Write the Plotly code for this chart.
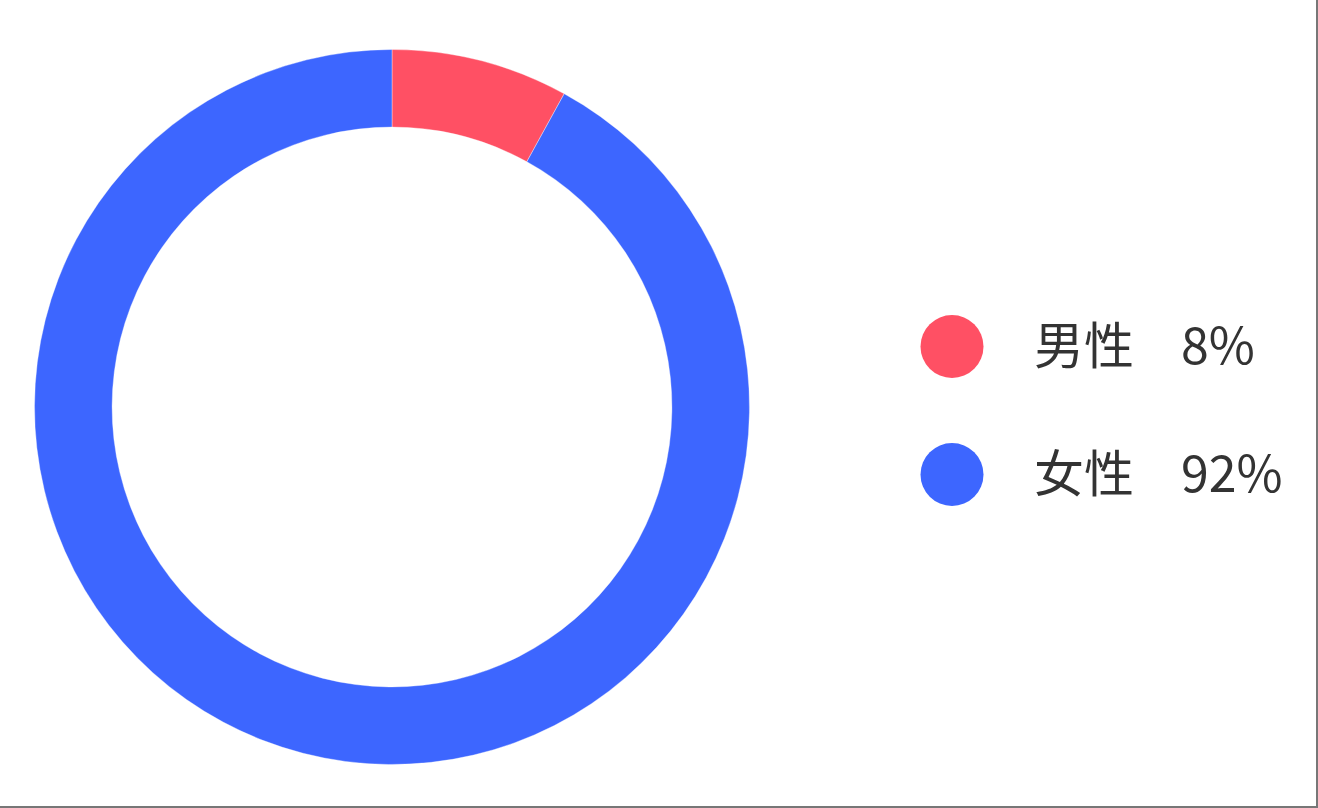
import plotly.graph_objects as go

# Data
labels = ["男性", "女性"]
values = [8, 92]
value_labels = ["8%", "92%"]
colors = ["#FF5064", "#3D66FF"]

W, H = 1318, 808

# Layout constants (pixels)
cx, cy, R = 392, 407, 357.5
hole = 0.783
leg_x = 952
leg_y = [346.5, 474.5]
name_x = 1032
val_x = 1179
text_shift = 5

fig = go.Figure()

fig.add_trace(go.Pie(
    labels=labels,
    values=values,
    marker=dict(colors=colors, line=dict(color="rgba(255,255,255,0.6)", width=0.6)),
    hole=hole,
    sort=False,
    direction="clockwise",
    rotation=0,
    textinfo="none",
    hoverinfo="label+percent",
    showlegend=False,
    domain=dict(x=[(cx - R) / W, (cx + R) / W],
                y=[(H - cy - R) / H, (H - cy + R) / H]),
))

# Legend markers drawn as a scatter on a hidden pixel-mapped axis
fig.add_trace(go.Scatter(
    x=[leg_x] * len(labels),
    y=leg_y,
    mode="markers",
    marker=dict(size=63, color=colors, line=dict(width=0)),
    hoverinfo="skip",
    showlegend=False,
))

annotations = []
for i, (lab, vl) in enumerate(zip(labels, value_labels)):
    annotations.append(dict(x=name_x, y=leg_y[i], xref="x", yref="y", text=lab,
                            showarrow=False, xanchor="left", yanchor="middle", yshift=text_shift,
                            font=dict(size=50, color="#333333", family="Noto Sans CJK SC")))
    annotations.append(dict(x=val_x, y=leg_y[i], xref="x", yref="y", text=vl,
                            showarrow=False, xanchor="left", yanchor="middle", yshift=text_shift,
                            font=dict(size=50, color="#333333", family="Noto Sans CJK SC")))

shapes = [
    dict(type="line", xref="x", yref="y", x0=W - 1, x1=W - 1, y0=0, y1=H,
         line=dict(color="#777777", width=2)),
    dict(type="line", xref="x", yref="y", x0=0, x1=W, y0=H - 1, y1=H - 1,
         line=dict(color="#777777", width=2)),
]

fig.update_layout(
    width=W, height=H,
    margin=dict(l=0, r=0, t=0, b=0),
    paper_bgcolor="white",
    plot_bgcolor="rgba(0,0,0,0)",
    xaxis=dict(range=[0, W], visible=False, fixedrange=True),
    yaxis=dict(range=[H, 0], visible=False, fixedrange=True),
    annotations=annotations,
    shapes=shapes,
    font=dict(family="Noto Sans CJK SC"),
)

fig.write_html("out.html",
               config={"displayModeBar": False},
               post_script="document.body.style.margin='0';document.body.style.overflow='hidden';")
